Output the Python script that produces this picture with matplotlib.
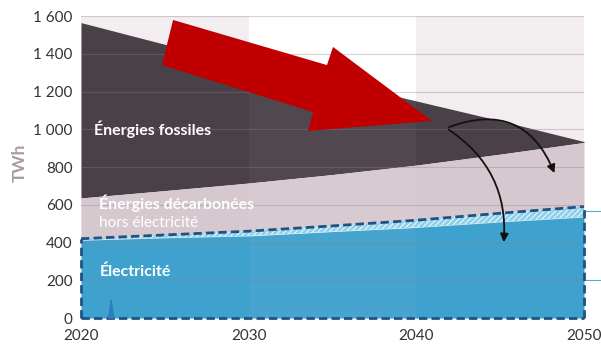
import matplotlib.pyplot as plt
from matplotlib.patches import Polygon

plt.rcParams['font.family'] = ['Lato', 'DejaVu Sans']
plt.rcParams['hatch.linewidth'] = 0.6

years = [2020, 2025, 2030, 2035, 2040, 2045, 2050]
total = [1565, 1450, 1350, 1255, 1150, 1045, 935]          # haut des énergies fossiles
decarb_top = [636, 675, 715, 760, 810, 868, 930]           # haut des énergies décarbonées
elec_total = [420, 440, 460, 488, 518, 555, 590]           # électricité (trait pointillé)
elec_gap = [8, 15, 25, 30, 38, 46, 55]                     # part hachurée
elec_base = [t - g for t, g in zip(elec_total, elec_gap)]

yticks = [0, 200, 400, 600, 800, 1000, 1200, 1400, 1600]
ytick_labels = ['0', '200', '400', '600', '800', '1 000', '1 200', '1 400', '1 600']
xticks = [2020, 2030, 2040, 2050]

c_fossil = '#4a4047'
c_decarb = '#d6c8cf'
c_elec = '#3fa1cd'
c_hatch = '#8fd0ea'
c_dash = '#1f5383'
band = '#f2eef0'

fig = plt.figure(figsize=(6.01, 3.48), dpi=100)
ax = fig.add_axes([81 / 601, 1 - 318 / 348, 503 / 601, 302 / 348])
ax.set_xlim(2020, 2050)
ax.set_ylim(0, 1600)

# bandes par décennie
ax.axvspan(2020, 2030, color=band, zorder=0, lw=0)
ax.axvspan(2040, 2050, color=band, zorder=0, lw=0)

ax.fill_between(years, decarb_top, total, color=c_fossil, lw=0, zorder=1)
ax.fill_between(years, elec_total, decarb_top, color=c_decarb, lw=0, zorder=1)
ax.fill_between(years, 0, elec_base, color=c_elec, lw=0, zorder=1)
ax.fill_between(years, elec_base, elec_total, color=c_hatch, lw=0, zorder=1,
                hatch='//////', edgecolor='white')

# léger voile sur la décennie 2030-2040
ax.axvspan(2030, 2040, color='white', alpha=0.04, zorder=2, lw=0)

# grille
for v in yticks[1:]:
    ax.axhline(v, color='#8a8086', alpha=0.35, lw=0.8, zorder=3)
# deux traits qui dépassent à droite
for v in [565, 200]:
    ax.plot([2050, 2051], [v, v], color='#5aa9cf', lw=0.8, clip_on=False, zorder=3)

# contour pointillé de l'électricité
dash = dict(color=c_dash, ls=(0, (3, 1.5)), lw=2, zorder=4, clip_on=False)
ax.plot(years, elec_total, **dash)
ax.plot([2020, 2020], [0, elec_total[0]], **dash)
ax.plot([2050, 2050], [0, elec_total[-1]], **dash)
ax.plot([2020, 2050], [0, 0], **dash)

# petit repère bleu
ax.add_patch(Polygon([(2021.65, 0), (2021.8, 95), (2021.95, 0)], closed=True,
                     color='#2f7cbf', zorder=4, clip_on=False))

# grande flèche rouge
arrow = [(2025.49, 1579), (2034.67, 1340), (2035.03, 1436), (2040.93, 1044),
         (2033.54, 991), (2033.84, 1091), (2024.83, 1340)]
ax.add_patch(Polygon(arrow, closed=True, color='#c00000', lw=0, zorder=5))

# flèches noires
ax.annotate('', xy=(2048.3, 754), xytext=(2041.8, 1006),
            arrowprops=dict(arrowstyle='-|>', color='#111111', lw=1.3,
                            mutation_scale=12, connectionstyle='arc3,rad=-0.5'),
            zorder=6)
ax.annotate('', xy=(2045.2, 387), xytext=(2041.8, 1006),
            arrowprops=dict(arrowstyle='-|>', color='#111111', lw=1.3,
                            mutation_scale=12, connectionstyle='arc3,rad=-0.3'),
            zorder=6)

# libellés
ax.text(2020.8, 1000, 'Énergies fossiles', color='white', fontsize=11.5,
        fontweight='bold', va='center', zorder=7)
ax.text(2021.1, 608, 'Énergies décarbonées', color='white', fontsize=11.5,
        fontweight='bold', va='center', zorder=7)
ax.text(2021.1, 503, 'hors électricité', color='white', fontsize=11,
        va='center', zorder=7)
ax.text(2021.1, 245, 'Électricité', color='white', fontsize=11.5,
        fontweight='bold', va='center', zorder=7)

ax.set_yticks(yticks)
ax.set_yticklabels(ytick_labels)
ax.set_xticks(xticks)
ax.tick_params(length=0, labelsize=11, labelcolor='#333333', pad=6)
ax.tick_params(axis='x', pad=8)
for s in ax.spines.values():
    s.set_visible(False)

fig.text(20 / 601, 1 - 163 / 348, 'TWh', rotation=90, color='#a99ba2',
         fontsize=12.5, fontweight='bold', ha='center', va='center')

fig.savefig('out.png', dpi=100)
